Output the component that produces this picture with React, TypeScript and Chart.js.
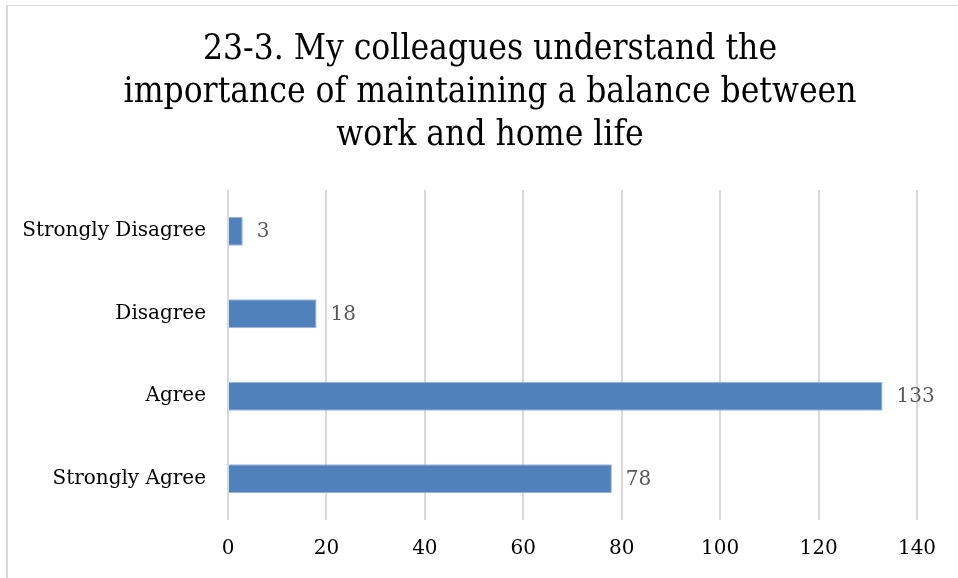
import React, { useEffect, useRef } from "react";
import { Chart, registerables } from "chart.js";

Chart.register(...registerables);

const categories = ["Strongly Disagree", "Disagree", "Agree", "Strongly Agree"];
const counts = [3, 18, 133, 78];
const titleLines = [
  "23-3. My colleagues understand the",
  "importance of maintaining a balance between",
  "work and home life",
];
const xMin = 0;
const xMax = 140;
const xStep = 20;

const FONT = "'DejaVu Serif', serif";
const TITLE_FONT = "'DejaVu Serif Condensed', 'DejaVu Serif', serif";

const dataLabels = {
  id: "dataLabels",
  afterDatasetsDraw(chart: any) {
    const ctx = chart.ctx;
    const meta = chart.getDatasetMeta(0);
    ctx.save();
    ctx.font = `20px ${FONT}`;
    ctx.fillStyle = "#595959";
    ctx.textAlign = "left";
    ctx.textBaseline = "middle";
    meta.data.forEach((bar: any, i: number) => {
      ctx.fillText(String(counts[i]), bar.x + 14, bar.y + 1);
    });
    ctx.restore();
  },
};

const customTitle = {
  id: "customTitle",
  afterDraw(chart: any) {
    const ctx = chart.ctx;
    ctx.save();
    ctx.font = `35px ${TITLE_FONT}`;
    ctx.fillStyle = "#000000";
    ctx.textAlign = "center";
    ctx.textBaseline = "middle";
    const cx = 490;
    const y0 = 50;
    const lh = 43;
    titleLines.forEach((line, i) => {
      ctx.fillText(line, cx, y0 + i * lh);
    });
    ctx.restore();
  },
};

export default function App() {
  const ref = useRef<HTMLCanvasElement | null>(null);

  useEffect(() => {
    if (!ref.current) return;
    const chart = new Chart(ref.current, {
      type: "bar",
      data: {
        labels: categories,
        datasets: [
          {
            data: counts,
            backgroundColor: "#4F81BD",
            borderColor: "#9AB6DA",
            borderWidth: 1,
            barPercentage: 0.35,
            categoryPercentage: 1,
          },
        ],
      },
      options: {
        indexAxis: "y",
        animation: false,
        responsive: false,
        maintainAspectRatio: false,
        layout: { padding: { left: 0, right: 41, top: 190, bottom: 0 } },
        plugins: {
          legend: { display: false },
          tooltip: { enabled: false },
          title: { display: false },
        },
        scales: {
          x: {
            min: xMin,
            max: xMax,
            ticks: {
              stepSize: xStep,
              color: "#000000",
              font: { family: FONT, size: 20 },
              padding: 17,
            },
            grid: { color: "#D9D9D9", lineWidth: 2, drawTicks: false },
            border: { display: false },
            afterFit: (scale: any) => {
              scale.height = 58;
            },
          },
          y: {
            ticks: {
              color: "#000000",
              font: { family: FONT, size: 20 },
              padding: 22,
            },
            grid: { display: false, drawTicks: false },
            border: { display: false },
            afterFit: (scale: any) => {
              scale.width = 228;
            },
          },
        },
      },
      plugins: [dataLabels, customTitle],
    });
    return () => chart.destroy();
  }, []);

  return (
    <div style={{ position: "fixed", left: 0, top: 0, width: 958, height: 578, background: "#ffffff" }}>
      <div
        style={{
          position: "absolute",
          left: 6,
          top: 5,
          width: 1000,
          height: 1000,
          borderLeft: "2px solid #D9D9D9",
          borderTop: "1px solid #D9D9D9",
        }}
      />
      <canvas ref={ref} width={958} height={578} style={{ position: "absolute", left: 0, top: 0 }} />
    </div>
  );
}
